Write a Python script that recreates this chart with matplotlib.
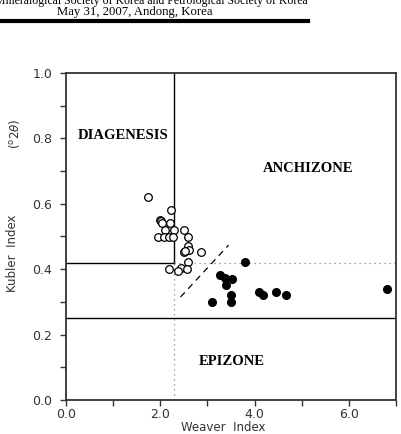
import matplotlib
matplotlib.use("Agg")
import matplotlib.pyplot as plt
from matplotlib.ticker import MultipleLocator

# open circles (diagenesis / lower anchizone samples)
open_x = [1.74, 2.23, 1.99, 2.01, 2.04, 2.21, 2.09, 2.30, 2.50, 1.96, 2.07, 2.19,
          2.27, 2.59, 2.59, 2.61, 2.50, 2.52, 2.87, 2.58, 2.19, 2.43, 2.38, 2.57]
open_y = [0.622, 0.581, 0.550, 0.547, 0.540, 0.540, 0.520, 0.520, 0.520, 0.500, 0.500, 0.500,
          0.500, 0.500, 0.470, 0.459, 0.452, 0.455, 0.452, 0.421, 0.400, 0.403, 0.395, 0.400]

# filled circles (anchizone samples)
fill_x = [3.79, 3.26, 3.37, 3.52, 3.40, 3.10, 3.49, 3.51, 4.10, 4.18, 4.45, 4.67, 6.80]
fill_y = [0.421, 0.382, 0.372, 0.370, 0.352, 0.301, 0.321, 0.301, 0.331, 0.320, 0.330, 0.320, 0.340]

# zone boundaries
weaver_limit = 2.3
kubler_upper = 0.42
kubler_lower = 0.25
dash_x = [2.43, 3.45]
dash_y = [0.315, 0.474]

zone_names = ["DIAGENESIS", "ANCHIZONE", "EPIZONE"]
zone_pos = [(0.25, 0.81), (4.17, 0.709), (2.81, 0.119)]

W, H = 401, 434
fig = plt.figure(figsize=(W / 100, H / 100), dpi=100)
ax = fig.add_axes([66 / W, 1 - 400 / H, 330 / W, 327 / H])

# header of the abstract page (first line is cut by the page edge)
fig.text(151 / W, 1 - 1 / H, "Mineralogical Society of Korea and Petrological Society of Korea",
         ha="center", va="center", family="Liberation Serif", fontsize=8.5)
fig.text(135 / W, 1 - 12 / H, "May 31, 2007, Andong, Korea",
         ha="center", va="center", family="Liberation Serif", fontsize=9.2)
fig.add_artist(plt.Line2D([0, 308 / W], [1 - 20.5 / H, 1 - 20.5 / H], color="black", lw=3.0,
                          transform=fig.transFigure))

# zone lines
ax.plot([weaver_limit, weaver_limit], [kubler_upper, 1.0], color="black", lw=1.0)
ax.plot([0, weaver_limit], [kubler_upper, kubler_upper], color="black", lw=1.0)
ax.plot([0, 7], [kubler_lower, kubler_lower], color="black", lw=1.0)
ax.plot([weaver_limit, 7], [kubler_upper, kubler_upper], color="gray", lw=0.9, ls=(0, (1, 3)))
ax.plot([weaver_limit, weaver_limit], [0, kubler_upper], color="gray", lw=0.9, ls=(0, (1, 3)))
ax.plot(dash_x, dash_y, color="black", lw=0.9, ls=(0, (5, 4)))

ax.plot(open_x, open_y, "o", mfc="white", mec="black", mew=0.9, ms=5.5, ls="none")
ax.plot(fill_x, fill_y, "o", color="black", ms=5.5, ls="none")

for name, (px, py) in zip(zone_names, zone_pos):
    ax.text(px, py, name, family="Liberation Serif", fontweight="bold", fontsize=10.5,
            va="center")

ax.set_xlim(0, 7)
ax.set_ylim(0, 1)
ax.xaxis.set_major_locator(MultipleLocator(1))
ax.yaxis.set_major_locator(MultipleLocator(0.1))
ax.xaxis.set_major_formatter(lambda v, p: f"{v:.1f}" if round(v) % 2 == 0 else "")
ax.yaxis.set_major_formatter(lambda v, p: f"{v:.1f}" if round(v * 10) % 2 == 0 else "")
ax.tick_params(direction="out", length=4, width=1.0, labelsize=9, colors="#333333",
               labelcolor="#333333")
ax.tick_params(axis="y", pad=6)
ax.tick_params(axis="x", pad=2)
for s in ax.spines.values():
    s.set_linewidth(1.3)
    s.set_color("#333333")

fig.text(223 / W, 1 - 427.5 / H, "Weaver  Index", ha="center", va="center",
         fontsize=8.5, color="#333333")
fig.text(13 / W, 1 - 253 / H, "Kubler  Index", rotation=90, ha="center", va="center",
         fontsize=8.5, color="#333333")
fig.text(15 / W, 1 - 134 / H, r"($^{\rm o}$2$\theta$)", rotation=90, ha="center", va="center",
         fontsize=8.5, color="#333333")

fig.savefig("out.png", dpi=100)
